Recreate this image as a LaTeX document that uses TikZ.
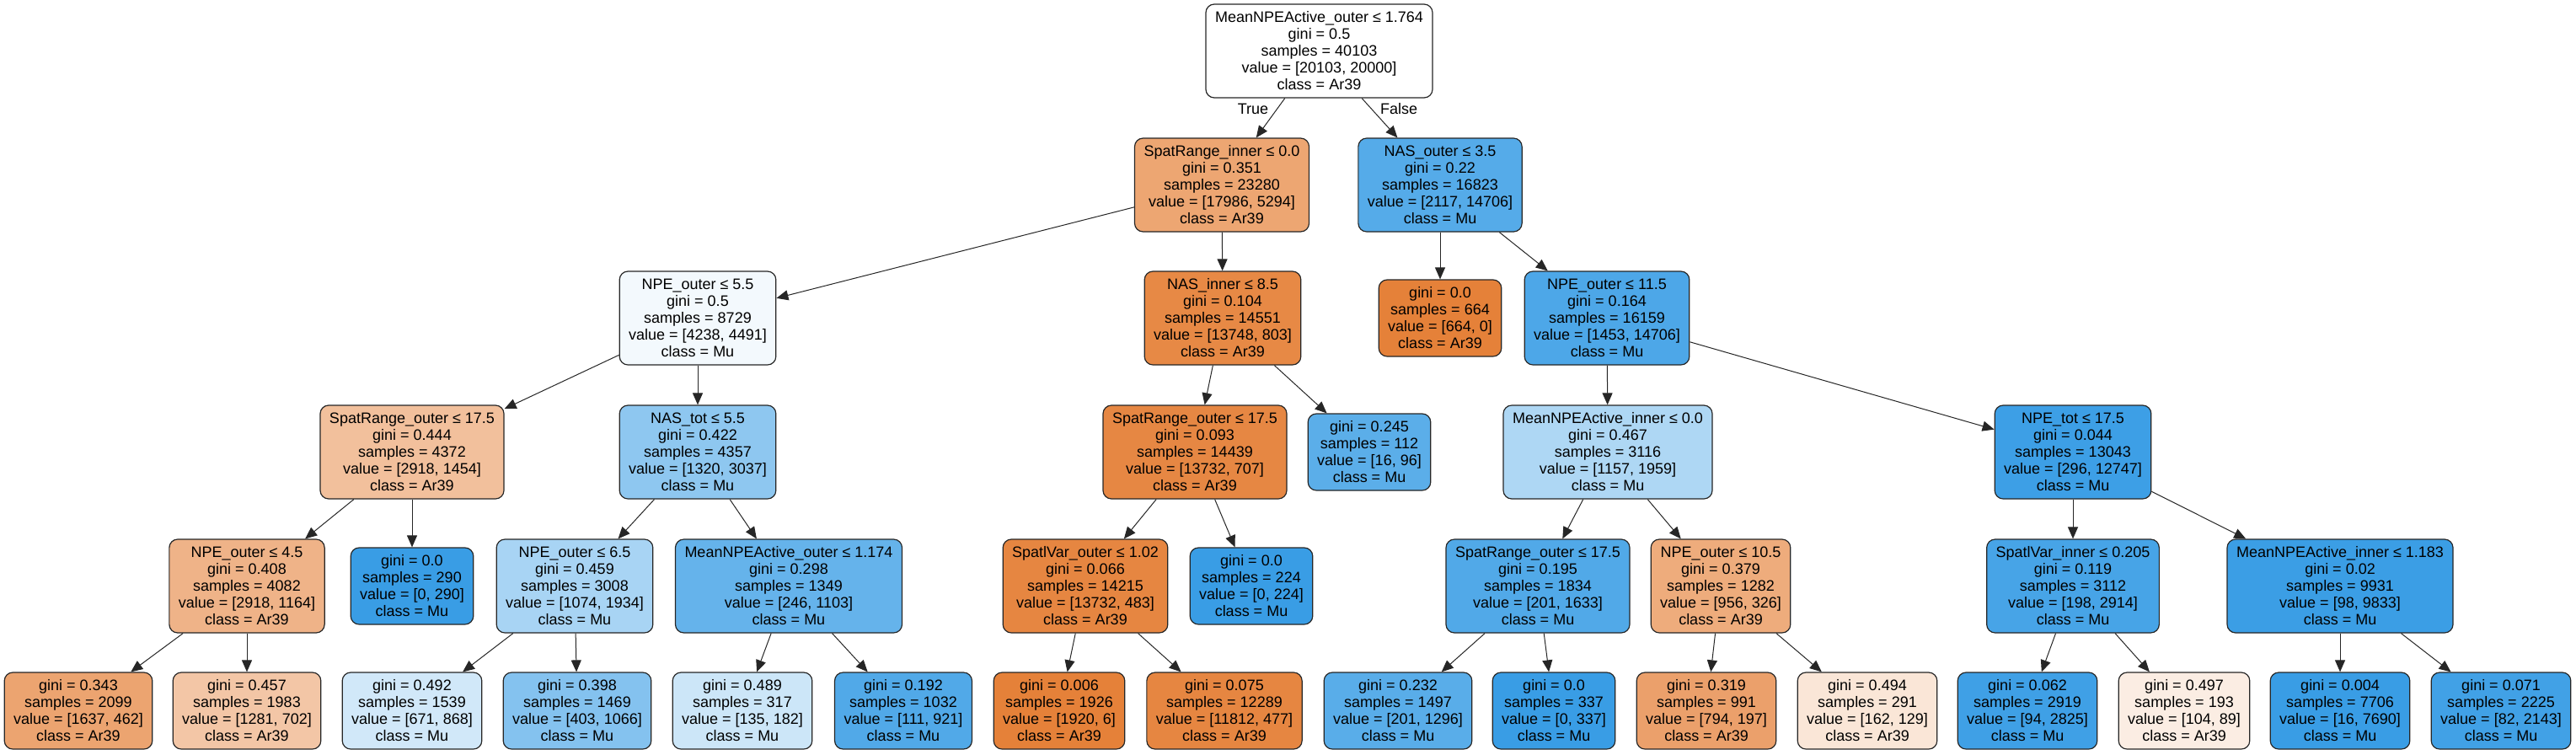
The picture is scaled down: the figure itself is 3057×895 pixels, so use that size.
\documentclass[tikz,border=0pt]{standalone}
\usepackage{fontspec}
\setmainfont{Liberation Sans}
\usetikzlibrary{arrows.meta}
\definecolor{myOrange}{RGB}{229, 129, 57}
\definecolor{myBlue}{RGB}{57, 157, 229}

\begin{document}
\begin{tikzpicture}[
    x=0.5pt, y=-0.5pt,
    font=\fontsize{9}{10}\selectfont,
    >={Triangle[length=7pt, width=6pt]},
    % Styles
    split_box/.style={
        draw=black!85, line width=0.6pt, rounded corners=5pt, align=center,
        inner xsep=5.5pt, inner ysep=0pt, minimum height=55.5pt
    },
    leaf_box/.style={
        split_box, minimum height=45.5pt
    },
    link/.style={
        ->, line width=0.5pt, draw=black!85
    }
]
    \useasboundingbox (0,0) rectangle (3057,895);

    % --- 1. Root ---
    \node[split_box, fill=white] (root) at (1565.5,60.5) {MeanNPEActive\_outer ≤ 1.764\\gini = 0.5\\samples = 40103\\value = [20103, 20000]\\class = Ar39};

    % --- 2. Second level ---
    \node[split_box, fill=myOrange!71] (sri) at (1450,219.5) {SpatRange\_inner ≤ 0.0\\gini = 0.351\\samples = 23280\\value = [17986, 5294]\\class = Ar39};
    \node[split_box, fill=myBlue!86] (naso) at (1709,219.5) {NAS\_outer ≤ 3.5\\gini = 0.22\\samples = 16823\\value = [2117, 14706]\\class = Mu};

    % --- 3. Third level ---
    \node[split_box, fill=myBlue!6] (npeo1) at (828,377.5) {NPE\_outer ≤ 5.5\\gini = 0.5\\samples = 8729\\value = [4238, 4491]\\class = Mu};
    \node[split_box, fill=myOrange!94] (nasi) at (1451,377.5) {NAS\_inner ≤ 8.5\\gini = 0.104\\samples = 14551\\value = [13748, 803]\\class = Ar39};
    \node[leaf_box, fill=myOrange] (leafA) at (1709,377.5) {gini = 0.0\\samples = 664\\value = [664, 0]\\class = Ar39};
    \node[split_box, fill=myBlue!90] (npeo2) at (1907,377.5) {NPE\_outer ≤ 11.5\\gini = 0.164\\samples = 16159\\value = [1453, 14706]\\class = Mu};

    % --- 4. Fourth level ---
    \node[split_box, fill=myOrange!50] (sro1) at (489,536.5) {SpatRange\_outer ≤ 17.5\\gini = 0.444\\samples = 4372\\value = [2918, 1454]\\class = Ar39};
    \node[split_box, fill=myBlue!57] (nastot) at (828,536.5) {NAS\_tot ≤ 5.5\\gini = 0.422\\samples = 4357\\value = [1320, 3037]\\class = Mu};
    \node[split_box, fill=myOrange!95] (sro2) at (1418,536.5) {SpatRange\_outer ≤ 17.5\\gini = 0.093\\samples = 14439\\value = [13732, 707]\\class = Ar39};
    \node[leaf_box, fill=myBlue!83] (leafB) at (1625,536.5) {gini = 0.245\\samples = 112\\value = [16, 96]\\class = Mu};
    \node[split_box, fill=myBlue!41] (mnai1) at (1908,536.5) {MeanNPEActive\_inner ≤ 0.0\\gini = 0.467\\samples = 3116\\value = [1157, 1959]\\class = Mu};
    \node[split_box, fill=myBlue!98] (npetot) at (2460,536.5) {NPE\_tot ≤ 17.5\\gini = 0.044\\samples = 13043\\value = [296, 12747]\\class = Mu};

    % --- 5. Fifth level ---
    \node[split_box, fill=myOrange!60] (npeo3) at (293,695.5) {NPE\_outer ≤ 4.5\\gini = 0.408\\samples = 4082\\value = [2918, 1164]\\class = Ar39};
    \node[leaf_box, fill=myBlue] (leafC) at (489,695.5) {gini = 0.0\\samples = 290\\value = [0, 290]\\class = Mu};
    \node[split_box, fill=myBlue!44] (npeo4) at (682,695.5) {NPE\_outer ≤ 6.5\\gini = 0.459\\samples = 3008\\value = [1074, 1934]\\class = Mu};
    \node[split_box, fill=myBlue!78] (mnao2) at (936,695.5) {MeanNPEActive\_outer ≤ 1.174\\gini = 0.298\\samples = 1349\\value = [246, 1103]\\class = Mu};
    \node[split_box, fill=myOrange!96] (svo) at (1288,695.5) {SpatlVar\_outer ≤ 1.02\\gini = 0.066\\samples = 14215\\value = [13732, 483]\\class = Ar39};
    \node[leaf_box, fill=myBlue] (leafD) at (1485,695.5) {gini = 0.0\\samples = 224\\value = [0, 224]\\class = Mu};
    \node[split_box, fill=myBlue!88] (sro3) at (1825,695.5) {SpatRange\_outer ≤ 17.5\\gini = 0.195\\samples = 1834\\value = [201, 1633]\\class = Mu};
    \node[split_box, fill=myOrange!66] (npeo5) at (2042,695.5) {NPE\_outer ≤ 10.5\\gini = 0.379\\samples = 1282\\value = [956, 326]\\class = Ar39};
    \node[split_box, fill=myBlue!93] (svi) at (2460,695.5) {SpatlVar\_inner ≤ 0.205\\gini = 0.119\\samples = 3112\\value = [198, 2914]\\class = Mu};
    \node[split_box, fill=myBlue!99] (mnai2) at (2777,695.5) {MeanNPEActive\_inner ≤ 1.183\\gini = 0.02\\samples = 9931\\value = [98, 9833]\\class = Mu};

    % --- 6. Leaves ---
    \node[leaf_box, fill=myOrange!72] (l1) at (93,843.5) {gini = 0.343\\samples = 2099\\value = [1637, 462]\\class = Ar39};
    \node[leaf_box, fill=myOrange!45] (l2) at (293,843.5) {gini = 0.457\\samples = 1983\\value = [1281, 702]\\class = Ar39};
    \node[leaf_box, fill=myBlue!23] (l3) at (489,843.5) {gini = 0.492\\samples = 1539\\value = [671, 868]\\class = Mu};
    \node[leaf_box, fill=myBlue!62] (l4) at (685,843.5) {gini = 0.398\\samples = 1469\\value = [403, 1066]\\class = Mu};
    \node[leaf_box, fill=myBlue!26] (l5) at (881,843.5) {gini = 0.489\\samples = 317\\value = [135, 182]\\class = Mu};
    \node[leaf_box, fill=myBlue!88] (l6) at (1072,843.5) {gini = 0.192\\samples = 1032\\value = [111, 921]\\class = Mu};
    \node[leaf_box, fill=myOrange] (l7) at (1257,843.5) {gini = 0.006\\samples = 1926\\value = [1920, 6]\\class = Ar39};
    \node[leaf_box, fill=myOrange!96] (l8) at (1453,843.5) {gini = 0.075\\samples = 12289\\value = [11812, 477]\\class = Ar39};
    \node[leaf_box, fill=myBlue!84] (l9) at (1659,843.5) {gini = 0.232\\samples = 1497\\value = [201, 1296]\\class = Mu};
    \node[leaf_box, fill=myBlue] (l10) at (1844,843.5) {gini = 0.0\\samples = 337\\value = [0, 337]\\class = Mu};
    \node[leaf_box, fill=myOrange!75] (l11) at (2025,843.5) {gini = 0.319\\samples = 991\\value = [794, 197]\\class = Ar39};
    \node[leaf_box, fill=myOrange!20] (l12) at (2216,843.5) {gini = 0.494\\samples = 291\\value = [162, 129]\\class = Ar39};
    \node[leaf_box, fill=myBlue!97] (l13) at (2406,843.5) {gini = 0.062\\samples = 2919\\value = [94, 2825]\\class = Mu};
    \node[leaf_box, fill=myOrange!14] (l14) at (2592,843.5) {gini = 0.497\\samples = 193\\value = [104, 89]\\class = Ar39};
    \node[leaf_box, fill=myBlue] (l15) at (2777,843.5) {gini = 0.004\\samples = 7706\\value = [16, 7690]\\class = Mu};
    \node[leaf_box, fill=myBlue!96] (l16) at (2968,843.5) {gini = 0.071\\samples = 2225\\value = [82, 2143]\\class = Mu};

    % Branch labels
    \node (lblTrue) at (1487,129) {True};
    \node (lblFalse) at (1660,129) {False};

    % --- Connections ---
    \draw[link] (root) -- (sri);
    \draw[link] (root) -- (naso);
    \draw[link] (sri) -- (npeo1);
    \draw[link] (sri) -- (nasi);
    \draw[link] (naso) -- (leafA);
    \draw[link] (naso) -- (npeo2);
    \draw[link] (npeo1) -- (sro1);
    \draw[link] (npeo1) -- (nastot);
    \draw[link] (nasi) -- (sro2);
    \draw[link] (nasi) -- (leafB);
    \draw[link] (npeo2) -- (mnai1);
    \draw[link] (npeo2) -- (npetot);
    \draw[link] (sro1) -- (npeo3);
    \draw[link] (sro1) -- (leafC);
    \draw[link] (nastot) -- (npeo4);
    \draw[link] (nastot) -- (mnao2);
    \draw[link] (sro2) -- (svo);
    \draw[link] (sro2) -- (leafD);
    \draw[link] (mnai1) -- (sro3);
    \draw[link] (mnai1) -- (npeo5);
    \draw[link] (npetot) -- (svi);
    \draw[link] (npetot) -- (mnai2);

    \draw[link] (npeo3) -- (l1);
    \draw[link] (npeo3) -- (l2);
    \draw[link] (npeo4) -- (l3);
    \draw[link] (npeo4) -- (l4);
    \draw[link] (mnao2) -- (l5);
    \draw[link] (mnao2) -- (l6);
    \draw[link] (svo) -- (l7);
    \draw[link] (svo) -- (l8);
    \draw[link] (sro3) -- (l9);
    \draw[link] (sro3) -- (l10);
    \draw[link] (npeo5) -- (l11);
    \draw[link] (npeo5) -- (l12);
    \draw[link] (svi) -- (l13);
    \draw[link] (svi) -- (l14);
    \draw[link] (mnai2) -- (l15);
    \draw[link] (mnai2) -- (l16);

\end{tikzpicture}
\end{document}
